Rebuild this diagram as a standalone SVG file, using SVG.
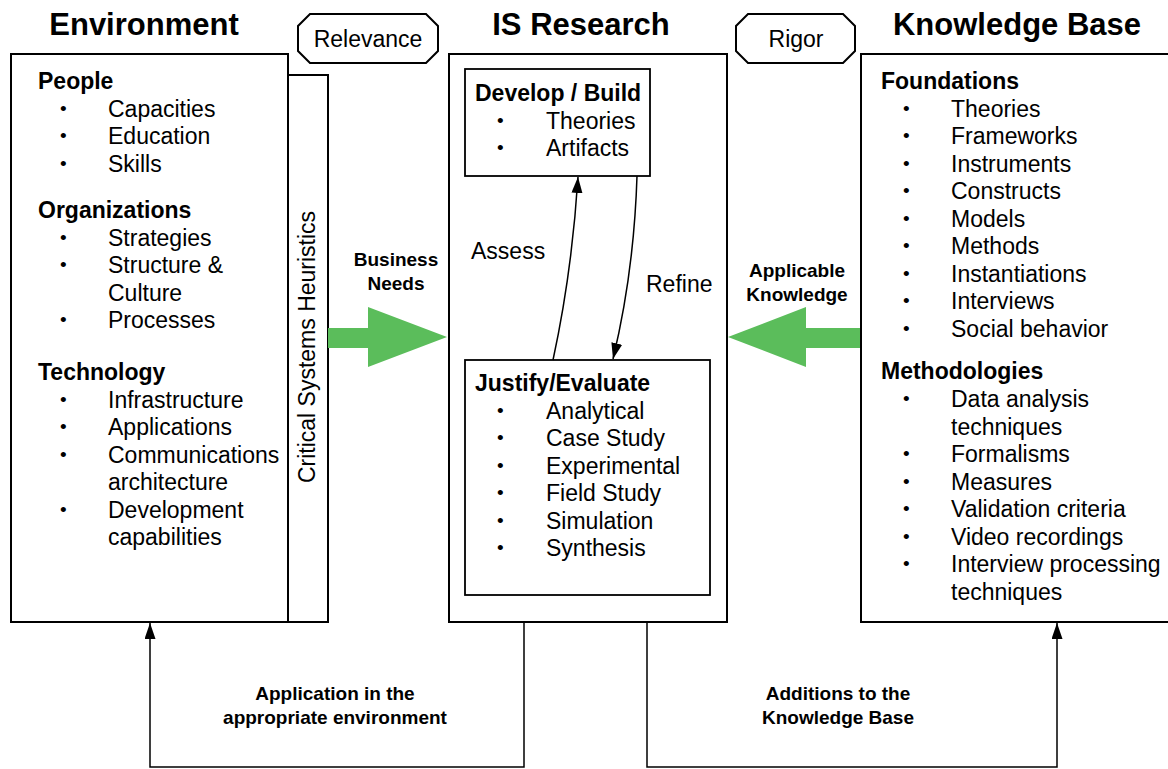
<svg xmlns="http://www.w3.org/2000/svg" width="1168" height="769" viewBox="0 0 1168 769">
  <style>
    text { font-family: "Liberation Sans", Arial, Helvetica, sans-serif; fill: #000; }
    .title { font-size: 31px; font-weight: bold; text-anchor: middle; }
    .head { font-size: 23px; font-weight: bold; }
    .item { font-size: 23px; }
    .bul { font-size: 19px; }
    .tag { font-size: 23px; text-anchor: middle; }
    .flow { font-size: 19px; font-weight: bold; text-anchor: middle; }
    .box { fill: #fff; stroke: #000; stroke-width: 2; }
    .inner { fill: #fff; stroke: #000; stroke-width: 1.8; }
    .link { fill: none; stroke: #000; stroke-width: 1.5; }
    .big { fill: #5bbd5b; }
  </style>
  <defs>
    <marker id="head" viewBox="0 0 16 11" refX="16" refY="5.5" markerWidth="16" markerHeight="11" markerUnits="userSpaceOnUse" orient="auto">
      <path d="M0,0 L16,5.5 L0,11 z" fill="#000"/>
    </marker>
  </defs>

  <!-- column titles -->
  <text class="title" x="144" y="35">Environment</text>
  <text class="title" x="581" y="35">IS Research</text>
  <text class="title" x="1017" y="35">Knowledge Base</text>

  <!-- Environment -->
  <g id="environment">
    <rect class="box" x="288" y="75" width="40" height="547"/>
    <rect class="box" x="11" y="54" width="277" height="568"/>
    <text class="item" transform="translate(315,347) rotate(-90)" text-anchor="middle">Critical Systems Heuristics</text>
    <text class="head" x="38" y="89">People</text>
    <g class="bul" transform="translate(60,-2)">
      <text y="116.5">•</text><text y="144">•</text><text y="171.5">•</text>
      <text y="245.5">•</text><text y="273">•</text><text y="328">•</text>
      <text y="407.5">•</text><text y="435">•</text><text y="462.5">•</text><text y="517.5">•</text>
    </g>
    <g class="item">
      <text x="108" y="116.5">Capacities</text>
      <text x="108" y="144">Education</text>
      <text x="108" y="171.5">Skills</text>
    </g>
    <text class="head" x="38" y="218">Organizations</text>
    <g class="item">
      <text x="108" y="245.5">Strategies</text>
      <text x="108" y="273">Structure &amp;</text>
      <text x="108" y="300.5">Culture</text>
      <text x="108" y="328">Processes</text>
    </g>
    <text class="head" x="38" y="380">Technology</text>
    <g class="item">
      <text x="108" y="407.5">Infrastructure</text>
      <text x="108" y="435">Applications</text>
      <text x="108" y="462.5">Communications</text>
      <text x="108" y="490">architecture</text>
      <text x="108" y="517.5">Development</text>
      <text x="108" y="545">capabilities</text>
    </g>
  </g>

  <!-- Relevance / Rigor tags -->
  <g id="relevance">
    <polygon class="box" points="310,14 426,14 438,26 438,51 426,63 310,63 298,51 298,26"/>
    <text class="tag" x="368" y="47">Relevance</text>
  </g>
  <g id="rigor">
    <polygon class="box" points="748,14 843,14 855,26 855,51 843,63 748,63 736,51 736,26"/>
    <text class="tag" x="796" y="47">Rigor</text>
  </g>

  <!-- IS Research -->
  <g id="is-research">
    <rect class="box" x="449" y="54" width="278" height="568"/>
  </g>
  <g id="develop-build">
    <rect class="inner" x="465" y="69" width="185" height="107"/>
    <text class="head" x="475" y="101">Develop / Build</text>
    <g class="bul" transform="translate(497,-2)">
      <text y="128.5">•</text><text y="156">•</text>
    </g>
    <g class="item">
      <text x="546" y="128.5">Theories</text>
      <text x="546" y="156">Artifacts</text>
    </g>
  </g>
  <g id="justify-evaluate">
    <rect class="inner" x="465" y="360" width="245" height="235"/>
    <text class="head" x="475" y="391">Justify/Evaluate</text>
    <g class="bul" transform="translate(497,-2)">
      <text y="418.5">•</text><text y="446">•</text><text y="473.5">•</text>
      <text y="501">•</text><text y="528.5">•</text><text y="556">•</text>
    </g>
    <g class="item">
      <text x="546" y="418.5">Analytical</text>
      <text x="546" y="446">Case Study</text>
      <text x="546" y="473.5">Experimental</text>
      <text x="546" y="501">Field Study</text>
      <text x="546" y="528.5">Simulation</text>
      <text x="546" y="556">Synthesis</text>
    </g>
  </g>

  <!-- Knowledge Base -->
  <g id="knowledge-base">
    <rect class="box" x="861" y="54" width="320" height="568"/>
    <text class="head" x="881" y="89">Foundations</text>
    <g class="bul" transform="translate(903,-2)">
      <text y="116.5">•</text><text y="144">•</text><text y="171.5">•</text>
      <text y="199">•</text><text y="226.5">•</text><text y="254">•</text>
      <text y="281.5">•</text><text y="309">•</text><text y="336.5">•</text>
      <text y="407">•</text><text y="462">•</text><text y="489.5">•</text>
      <text y="517">•</text><text y="544.5">•</text><text y="572">•</text>
    </g>
    <g class="item">
      <text x="951" y="116.5">Theories</text>
      <text x="951" y="144">Frameworks</text>
      <text x="951" y="171.5">Instruments</text>
      <text x="951" y="199">Constructs</text>
      <text x="951" y="226.5">Models</text>
      <text x="951" y="254">Methods</text>
      <text x="951" y="281.5">Instantiations</text>
      <text x="951" y="309">Interviews</text>
      <text x="951" y="336.5">Social behavior</text>
    </g>
    <text class="head" x="881" y="379">Methodologies</text>
    <g class="item">
      <text x="951" y="407">Data analysis</text>
      <text x="951" y="434.5">techniques</text>
      <text x="951" y="462">Formalisms</text>
      <text x="951" y="489.5">Measures</text>
      <text x="951" y="517">Validation criteria</text>
      <text x="951" y="544.5">Video recordings</text>
      <text x="951" y="572">Interview processing</text>
      <text x="951" y="599.5">techniques</text>
    </g>
  </g>

  <!-- connectors -->
  <g id="connectors">
    <!-- business needs and applicable knowledge -->
    <polygon class="big" points="328,328 368,328 368,307 447,337 368,367 368,348 328,348"/>
    <polygon class="big" points="860,328 806,328 806,307 728,337 806,367 806,348 860,348"/>
    <!-- build / evaluate cycle -->
    <path class="link" d="M553,360 Q572,272 578,177" marker-end="url(#head)"/>
    <path class="link" d="M637,176 Q634,272 613,359" marker-end="url(#head)"/>
    <!-- feedback to environment and knowledge base -->
    <path class="link" d="M524,622 V767 H150 V623" marker-end="url(#head)"/>
    <path class="link" d="M647,622 V767 H1057 V623" marker-end="url(#head)"/>
  </g>

  <!-- connector labels -->
  <text class="flow" x="396" y="266">Business</text>
  <text class="flow" x="396" y="290">Needs</text>
  <text class="flow" x="797" y="277">Applicable</text>
  <text class="flow" x="797" y="301">Knowledge</text>
  <text class="item" x="471" y="259">Assess</text>
  <text class="item" x="646" y="292">Refine</text>
  <text class="flow" x="335" y="700">Application in the</text>
  <text class="flow" x="335" y="724">appropriate environment</text>
  <text class="flow" x="838" y="700">Additions to the</text>
  <text class="flow" x="838" y="724">Knowledge Base</text>
</svg>
